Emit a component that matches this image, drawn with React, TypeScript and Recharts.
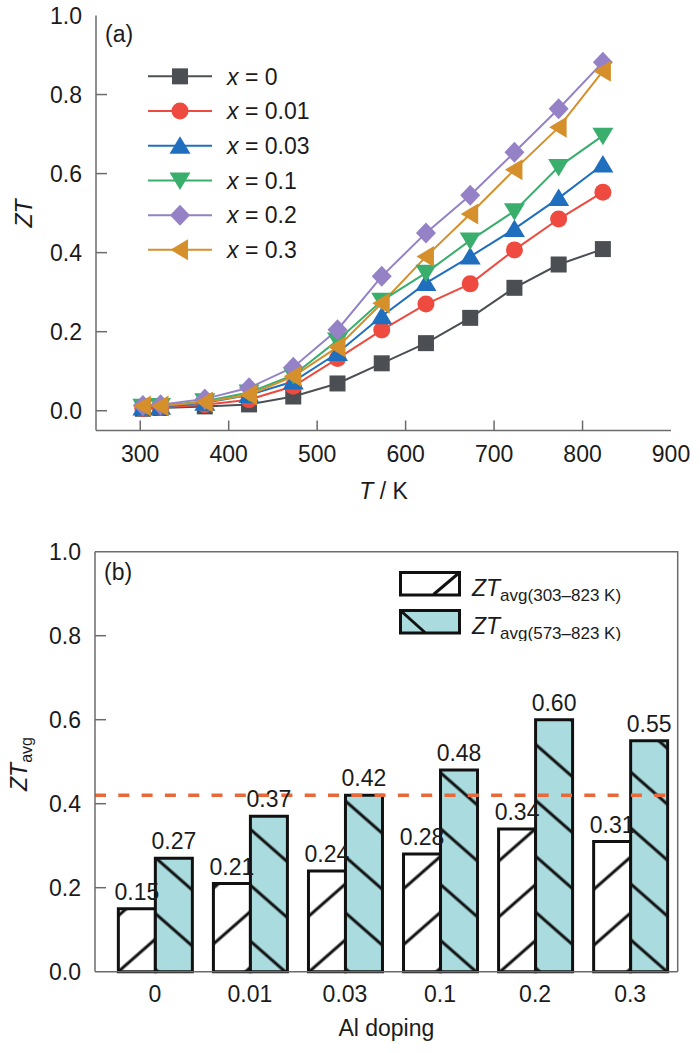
import React from "react";
import {
  LineChart,
  Line,
  BarChart,
  Bar,
  XAxis,
  YAxis,
  Legend,
  ReferenceLine,
  LabelList,
  Label,
} from "recharts";

// (a) ZT vs temperature
const temperatures = [303, 323, 373, 423, 473, 523, 573, 623, 673, 723, 773, 823];
const ztX0 = [0.005, 0.007, 0.011, 0.016, 0.036, 0.069, 0.12, 0.171, 0.235, 0.311, 0.37, 0.409];
const ztX001 = [0.006, 0.008, 0.015, 0.028, 0.062, 0.132, 0.204, 0.27, 0.321, 0.407, 0.485, 0.553];
const ztX003 = [0.008, 0.01, 0.02, 0.04, 0.074, 0.146, 0.239, 0.323, 0.39, 0.46, 0.538, 0.623];
const ztX01 = [0.01, 0.012, 0.024, 0.046, 0.09, 0.178, 0.278, 0.349, 0.431, 0.505, 0.617, 0.696];
const ztX02 = [0.013, 0.015, 0.03, 0.058, 0.11, 0.205, 0.34, 0.45, 0.545, 0.654, 0.764, 0.882];
const ztX03 = [0.012, 0.012, 0.022, 0.04, 0.087, 0.161, 0.272, 0.39, 0.498, 0.61, 0.717, 0.859];
const tempTicks = [300, 400, 500, 600, 700, 800, 900];
const ztTicks = [0, 0.2, 0.4, 0.6, 0.8, 1.0];

// (b) average ZT per Al doping level
const dopingLevels = ["0", "0.01", "0.03", "0.1", "0.2", "0.3"];
const ztAvgWide = [0.15, 0.21, 0.24, 0.28, 0.34, 0.31];
const ztAvgHigh = [0.27, 0.37, 0.42, 0.48, 0.6, 0.55];
const avgTicks = [0, 0.2, 0.4, 0.6, 0.8, 1.0];
const referenceZt = 0.42;

const FONT = "'Liberation Sans', Arial, Helvetica, sans-serif";
const INK = "#1b1b1b";
const FRAME = "#6b6b6b";
const TEAL = "#aadcdf";

// layout of panel (b)
const BAR_TOP = 520;
const BAR_WIDTH = 700;
const BAR_HEIGHT = 533;
const BAR_MARGIN = { top: 31.7, right: 22.3, left: 0, bottom: 21.3 };
const BAR_YAXIS_W = 95;
const BAR_XAXIS_H = 60;

type Shape = "square" | "circle" | "up" | "down" | "diamond" | "left";

const series: { key: string; label: string; color: string; shape: Shape; values: number[] }[] = [
  { key: "x0", label: "0", color: "#4b4f54", shape: "square", values: ztX0 },
  { key: "x001", label: "0.01", color: "#ee4a3f", shape: "circle", values: ztX001 },
  { key: "x003", label: "0.03", color: "#1f6fbe", shape: "up", values: ztX003 },
  { key: "x01", label: "0.1", color: "#3aae6c", shape: "down", values: ztX01 },
  { key: "x02", label: "0.2", color: "#9582c6", shape: "diamond", values: ztX02 },
  { key: "x03", label: "0.3", color: "#d58f2b", shape: "left", values: ztX03 },
];

const lineData = temperatures.map((T, i) => {
  const row: Record<string, number> = { T };
  series.forEach((s) => (row[s.key] = s.values[i]));
  return row;
});

// bars sit on a numeric axis at their category index
const barData = dopingLevels.map((doping, i) => ({
  pos: i,
  doping,
  wide: ztAvgWide[i],
  high: ztAvgHigh[i],
}));
const barTicks = dopingLevels.map((_, i) => i);
const barDomain = [-0.63, 5.5];

function Marker({ shape, cx, cy, color }: { shape: Shape; cx: number; cy: number; color: string }) {
  switch (shape) {
    case "square":
      return <rect x={cx - 8} y={cy - 8} width={16} height={16} fill={color} />;
    case "circle":
      return <circle cx={cx} cy={cy} r={8.5} fill={color} />;
    case "up":
      return <polygon points={`${cx},${cy - 9.5} ${cx + 10.5},${cy + 8} ${cx - 10.5},${cy + 8}`} fill={color} />;
    case "down":
      return <polygon points={`${cx},${cy + 9.5} ${cx + 10.5},${cy - 8} ${cx - 10.5},${cy - 8}`} fill={color} />;
    case "diamond":
      return <polygon points={`${cx},${cy - 10.5} ${cx + 10},${cy} ${cx},${cy + 10.5} ${cx - 10},${cy}`} fill={color} />;
    default:
      return <polygon points={`${cx - 9.5},${cy} ${cx + 8},${cy - 10.5} ${cx + 8},${cy + 10.5}`} fill={color} />;
  }
}

function TempTick({ x, y, payload }: any) {
  return (
    <g>
      {payload.value < 900 && <line x1={x} x2={x} y1={y} y2={y - 10} stroke={FRAME} strokeWidth={1.5} />}
      <text x={x} y={y + 31.5} textAnchor="middle" fontSize={23} fill={INK}>
        {payload.value}
      </text>
    </g>
  );
}

function ZtTick({ x, y, payload }: any) {
  return (
    <g>
      {payload.value < 1 && <line x1={x} x2={x + 11} y1={y} y2={y} stroke={FRAME} strokeWidth={1.5} />}
      <text x={x - 14} y={y + 8.3} textAnchor="end" fontSize={23} fill={INK}>
        {payload.value.toFixed(1)}
      </text>
    </g>
  );
}

function AvgTick({ x, y, payload }: any) {
  const v = payload.value;
  return (
    <g>
      {v > 0 && v < 1 && <line x1={x} x2={x + 11} y1={y} y2={y} stroke={FRAME} strokeWidth={1.5} />}
      <text x={x - 14} y={y + 8.3} textAnchor="end" fontSize={23} fill={INK}>
        {v.toFixed(1)}
      </text>
    </g>
  );
}

function DopingTick({ x, y, payload }: any) {
  return (
    <text x={x} y={y + 30.3} textAnchor="middle" fontSize={23} fill={INK}>
      {dopingLevels[payload.value]}
    </text>
  );
}

function LineLegend() {
  return (
    <svg width={240} height={210}>
      {series.map((s, i) => {
        const cy = 17.35 + i * 34.7;
        return (
          <g key={s.key}>
            <line x1={0} x2={64} y1={cy} y2={cy} stroke={s.color} strokeWidth={2} />
            <Marker shape={s.shape} cx={32} cy={cy} color={s.color} />
            <text x={79} y={cy + 8.3} fontSize={23} fill={INK}>
              <tspan fontStyle="italic">x</tspan>
              {" = " + s.label}
            </text>
          </g>
        );
      })}
    </svg>
  );
}

function BarLegend() {
  const rows = [
    { fill: "#ffffff", range: "avg(303\u2013823 K)", hatch: [34.5, 23.5, 60.5, 1.5] },
    { fill: TEAL, range: "avg(573\u2013823 K)", hatch: [1.5, 39.5, 26, 61.5] },
  ];
  return (
    <svg width={240} height={70}>
      {rows.map((r, i) => {
        const top = 1.5 + i * 38;
        return (
          <g key={r.range}>
            <rect x={1.5} y={top} width={59} height={22.5} fill={r.fill} stroke="#111" strokeWidth={3} />
            <line x1={r.hatch[0]} y1={r.hatch[1]} x2={r.hatch[2]} y2={r.hatch[3]} stroke="#111" strokeWidth={3} />
            <text x={73} y={top + 23} fontSize={23} fill={INK}>
              <tspan fontStyle="italic">ZT</tspan>
              <tspan fontSize={17} dy={5}>
                {r.range}
              </tspan>
            </text>
          </g>
        );
      })}
    </svg>
  );
}

export default function App() {
  // plot-area edges of panel (b), from its margins and axis sizes
  const plotLeft = BAR_MARGIN.left + BAR_YAXIS_W;
  const plotRight = BAR_WIDTH - BAR_MARGIN.right;
  const plotTop = BAR_TOP + BAR_MARGIN.top;
  const plotBottom = BAR_TOP + BAR_HEIGHT - BAR_MARGIN.bottom - BAR_XAXIS_H;

  return (
    <div
      style={{
        position: "absolute",
        left: 0,
        top: 0,
        width: 700,
        height: 1053,
        background: "#fff",
        fontFamily: FONT,
      }}
    >
      <div style={{ position: "absolute", left: 0, top: 0 }}>
        <LineChart width={700} height={510} data={lineData} margin={{ top: 15.5, right: 29, left: 0, bottom: 19.5 }}>
          <XAxis
            dataKey="T"
            type="number"
            domain={[250, 900]}
            ticks={tempTicks}
            allowDataOverflow
            height={60}
            tickSize={0}
            tickMargin={0}
            tick={<TempTick />}
            axisLine={{ stroke: FRAME, strokeWidth: 1.5 }}
          >
            <Label
              content={({ viewBox }: any) => (
                <text x={viewBox.x + viewBox.width / 2} y={viewBox.y + 68.5} textAnchor="middle" fontSize={23} fill={INK}>
                  <tspan fontStyle="italic">T</tspan>
                  {" / K"}
                </text>
              )}
            />
          </XAxis>
          <XAxis
            xAxisId="top"
            orientation="top"
            type="number"
            domain={[250, 900]}
            height={0}
            tick={false}
            tickLine={false}
            axisLine={{ stroke: FRAME, strokeWidth: 1.5 }}
          />
          <YAxis
            type="number"
            domain={[-0.05, 1]}
            ticks={ztTicks}
            allowDataOverflow
            width={96}
            tickSize={0}
            tickMargin={0}
            tick={<ZtTick />}
            axisLine={{ stroke: FRAME, strokeWidth: 1.5 }}
          >
            <Label
              content={({ viewBox }: any) => {
                const cy = viewBox.y + viewBox.height / 2 - 9.5;
                return (
                  <text
                    x={32}
                    y={cy}
                    transform={`rotate(-90 32 ${cy})`}
                    textAnchor="middle"
                    fontSize={23}
                    fontStyle="italic"
                    fill={INK}
                  >
                    ZT
                  </text>
                );
              }}
            />
          </YAxis>
          <YAxis
            yAxisId="right"
            orientation="right"
            domain={[-0.05, 1]}
            width={0}
            tick={false}
            tickLine={false}
            axisLine={{ stroke: FRAME, strokeWidth: 1.5 }}
          />
          <Legend
            layout="vertical"
            align="center"
            verticalAlign="middle"
            content={<LineLegend />}
            wrapperStyle={{ left: 148, top: 59.35, width: 240, height: 210 }}
          />
          {series.map((s) => (
            <Line
              key={s.key}
              dataKey={s.key}
              name={s.label}
              type="linear"
              stroke={s.color}
              strokeWidth={2}
              isAnimationActive={false}
              activeDot={false}
              dot={(p: any) => (
                <Marker key={`${s.key}-${p.index}`} shape={s.shape} cx={p.cx} cy={p.cy} color={s.color} />
              )}
            />
          ))}
        </LineChart>
      </div>

      <div style={{ position: "absolute", left: 0, top: BAR_TOP }}>
        <BarChart width={BAR_WIDTH} height={BAR_HEIGHT} data={barData} barGap={0} margin={BAR_MARGIN}>
          <defs>
            <pattern
              id="hatchFwd"
              patternUnits="userSpaceOnUse"
              x={18.4}
              width={42}
              height={42}
              patternTransform="rotate(48.7)"
            >
              <rect x={0} y={0} width={42} height={42} fill="#ffffff" />
              <line x1={21} x2={21} y1={-2} y2={44} stroke="#111" strokeWidth={3} />
            </pattern>
            <pattern
              id="hatchBack"
              patternUnits="userSpaceOnUse"
              x={-4.1}
              width={42}
              height={42}
              patternTransform="rotate(-48.7)"
            >
              <rect x={0} y={0} width={42} height={42} fill={TEAL} />
              <line x1={21} x2={21} y1={-2} y2={44} stroke="#111" strokeWidth={3} />
            </pattern>
          </defs>
          <XAxis
            dataKey="pos"
            type="number"
            domain={barDomain}
            ticks={barTicks}
            allowDataOverflow
            height={BAR_XAXIS_H}
            tickSize={0}
            tickMargin={0}
            tick={<DopingTick />}
            axisLine={{ stroke: FRAME, strokeWidth: 1.5 }}
          >
            <Label
              content={({ viewBox }: any) => (
                <text x={viewBox.x + viewBox.width / 2} y={viewBox.y + 64} textAnchor="middle" fontSize={23} fill={INK}>
                  Al doping
                </text>
              )}
            />
          </XAxis>
          <YAxis
            type="number"
            domain={[0, 1]}
            ticks={avgTicks}
            width={BAR_YAXIS_W}
            tickSize={0}
            tickMargin={0}
            tick={<AvgTick />}
            axisLine={{ stroke: FRAME, strokeWidth: 1.5 }}
          >
            <Label
              content={({ viewBox }: any) => {
                const cy = viewBox.y + viewBox.height / 2 + 2.3;
                return (
                  <text
                    x={27}
                    y={cy}
                    transform={`rotate(-90 27 ${cy})`}
                    textAnchor="middle"
                    fontSize={23}
                    fill={INK}
                  >
                    <tspan fontStyle="italic">ZT</tspan>
                    <tspan fontSize={16} dy={5}>
                      avg
                    </tspan>
                  </text>
                );
              }}
            />
          </YAxis>
          <Legend
            layout="vertical"
            align="center"
            verticalAlign="middle"
            content={<BarLegend />}
            wrapperStyle={{ left: 398.5, top: 51.2, width: 240, height: 70 }}
          />
          <Bar dataKey="wide" barSize={37} fill="url(#hatchFwd)" stroke="#111" strokeWidth={3} isAnimationActive={false}>
            <LabelList dataKey="wide" position="top" offset={9} fontSize={23} fill={INK} formatter={(v: any) => Number(v).toFixed(2)} />
          </Bar>
          <Bar dataKey="high" barSize={37} fill="url(#hatchBack)" stroke="#111" strokeWidth={3} isAnimationActive={false}>
            <LabelList dataKey="high" position="top" offset={9} fontSize={23} fill={INK} formatter={(v: any) => Number(v).toFixed(2)} />
          </Bar>
          <ReferenceLine y={referenceZt} stroke="#e8683a" strokeWidth={3.5} strokeDasharray="11 12.3" />
        </BarChart>
      </div>

      <svg width={700} height={1053} style={{ position: "absolute", left: 0, top: 0, pointerEvents: "none" }}>
        <text x={105} y={41.5} fontSize={23} fill={INK}>
          (a)
        </text>
        <text x={104} y={580} fontSize={23} fill={INK}>
          (b)
        </text>
        {/* top and right sides of the panel (b) frame */}
        <polyline
          points={`${plotLeft},${plotTop} ${plotRight},${plotTop} ${plotRight},${plotBottom}`}
          fill="none"
          stroke={FRAME}
          strokeWidth={1.5}
        />
      </svg>
    </div>
  );
}
